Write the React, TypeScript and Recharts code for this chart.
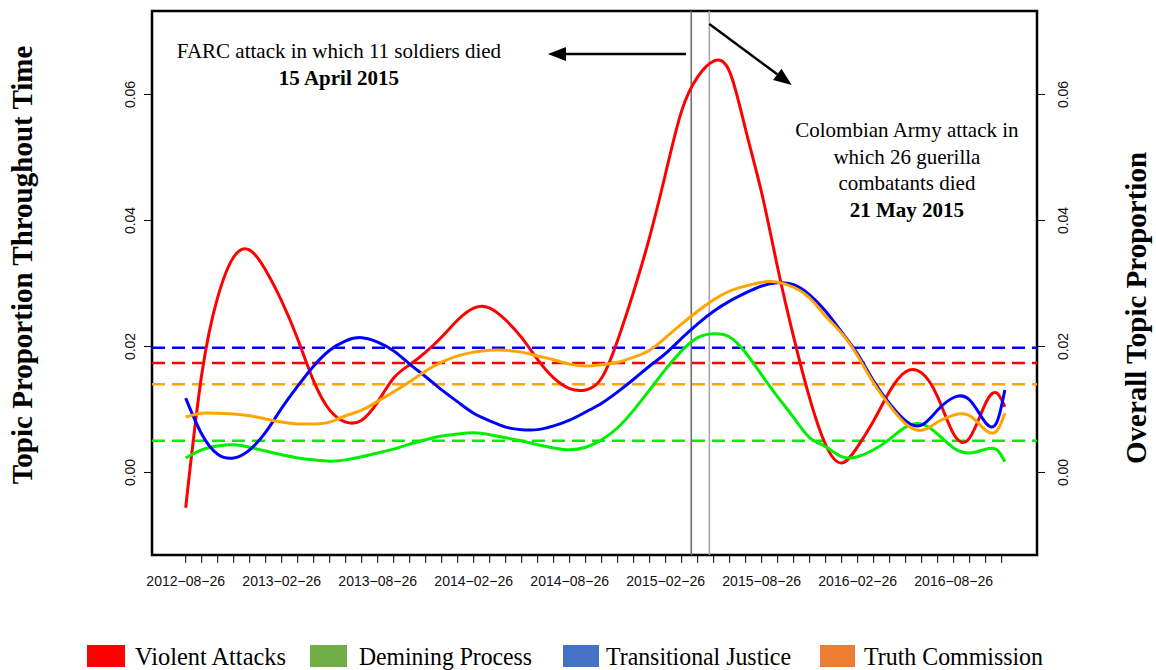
import React from 'react';
import {
  LineChart,
  Line,
  XAxis,
  YAxis,
  ReferenceLine,
  ReferenceArea,
  ReferenceDot,
} from 'recharts';

// Month index since 2012-08-26 (one unit = one month)
const months = [
  0, 1, 2, 3, 4, 5, 6, 7, 8, 9,
  10, 11, 12, 13, 14, 15, 16, 17, 18, 19,
  20, 21, 22, 23, 24, 25, 26, 27, 28, 29,
  30, 31, 32, 33, 34, 35, 36, 37, 38, 39,
  40, 41, 42, 43, 44, 45, 46, 47, 48, 49,
  50, 50.7, 51.2,
];

const violentAttacks = [
  -0.0056, 0.0155, 0.0278, 0.0342, 0.0353, 0.0321, 0.0272, 0.0212, 0.0145, 0.0099,
  0.0080, 0.0083, 0.0112, 0.0150, 0.0171, 0.0191, 0.0215, 0.0242, 0.0261, 0.0261,
  0.0242, 0.0214, 0.0179, 0.0150, 0.0133, 0.0131, 0.0150, 0.0210, 0.0287, 0.0374,
  0.0475, 0.0574, 0.0628, 0.0653, 0.0636, 0.0544, 0.0444, 0.0325, 0.0215, 0.0118,
  0.0044, 0.0015, 0.0041, 0.0082, 0.0129, 0.0160, 0.0158, 0.0120, 0.0061, 0.0055,
  0.0110, 0.0126, 0.0104,
];

const deminingProcess = [
  0.0023, 0.0036, 0.0042, 0.0044, 0.0040, 0.0034, 0.0028, 0.0023, 0.0020, 0.0018,
  0.0020, 0.0025, 0.0031, 0.0037, 0.0045, 0.0052, 0.0058, 0.0061, 0.0063, 0.0060,
  0.0055, 0.0050, 0.0044, 0.0039, 0.0036, 0.0040, 0.0052, 0.0071, 0.0099, 0.0131,
  0.0164, 0.0193, 0.0214, 0.0220, 0.0215, 0.0190, 0.0155, 0.0120, 0.0087, 0.0055,
  0.0041, 0.0025, 0.0025, 0.0036, 0.0053, 0.0072, 0.0077, 0.0061, 0.0039, 0.0031,
  0.0037, 0.0036, 0.0017,
];

const transitionalJustice = [
  0.0118, 0.0061, 0.0029, 0.0023, 0.0036, 0.0064, 0.0102, 0.0137, 0.0169, 0.0194,
  0.0209, 0.0214, 0.0207, 0.0193, 0.0172, 0.0152, 0.0131, 0.0112, 0.0094, 0.0082,
  0.0072, 0.0068, 0.0068, 0.0074, 0.0083, 0.0096, 0.0110, 0.0128, 0.0148, 0.0169,
  0.0189, 0.0213, 0.0236, 0.0256, 0.0272, 0.0285, 0.0296, 0.0301, 0.0298, 0.0282,
  0.0256, 0.0223, 0.0188, 0.0145, 0.0109, 0.0082, 0.0075, 0.0099, 0.0119, 0.0115,
  0.0079, 0.0080, 0.0131,
];

const truthCommission = [
  0.0088, 0.0094, 0.0094, 0.0093, 0.0090, 0.0085, 0.0080, 0.0077, 0.0077, 0.0080,
  0.0090, 0.0099, 0.0113, 0.0128, 0.0144, 0.0161, 0.0175, 0.0185, 0.0191, 0.0194,
  0.0194, 0.0191, 0.0185, 0.0179, 0.0172, 0.0169, 0.0171, 0.0175, 0.0183, 0.0194,
  0.0214, 0.0236, 0.0256, 0.0274, 0.0288, 0.0296, 0.0302, 0.0302, 0.0294, 0.0277,
  0.0248, 0.0221, 0.0185, 0.0142, 0.0106, 0.0077, 0.0067, 0.0080, 0.0091, 0.0090,
  0.0067, 0.0066, 0.0094,
];

// Overall (whole-period) topic proportions, drawn as dashed reference lines
const overallViolent = 0.01738;
const overallDemining = 0.00505;
const overallTransitional = 0.01981;
const overallTruth = 0.0140;

// Labels shown on every sixth monthly tick
const tickLabels = [
  '2012-08-26', '2013-02-26', '2013-08-26', '2014-02-26', '2014-08-26',
  '2015-02-26', '2015-08-26', '2016-02-26', '2016-08-26',
];
const monthTicks = Array.from({ length: 52 }, (_, i) => i);
const yTicks = [0, 0.02, 0.04, 0.06];

// Event dates (month index)
const farcAttack = 31.6; // 15 April 2015
const armyAttack = 32.73; // 21 May 2015

const X_DOMAIN: [number, number] = [-2.106, 53.21];
const Y_DOMAIN: [number, number] = [-0.0131, 0.07325];

const data = months.map((m, i) => ({
  month: m,
  violent: violentAttacks[i],
  demining: deminingProcess[i],
  transitional: transitionalJustice[i],
  truth: truthCommission[i],
}));

const legendItems = [
  { name: 'Violent Attacks', color: '#FF0000', rx: 87, rw: 38, tx: 135, tw: 151 },
  { name: 'Demining Process', color: '#70AD47', rx: 310, rw: 37, tx: 359, tw: 173 },
  { name: 'Transitional Justice', color: '#4472C4', rx: 563, rw: 36, tx: 606, tw: 185 },
  { name: 'Truth Commission', color: '#ED7D31', rx: 820, rw: 35, tx: 864, tw: 179 },
];

const SANS = '"Liberation Sans", Arial, sans-serif';
const SERIF = '"Liberation Serif", "Times New Roman", serif';

const RotatedYTick = (props: any) => {
  const { x, y, payload } = props;
  return (
    <text
      x={x}
      y={y}
      transform={`rotate(-90, ${x}, ${y})`}
      textAnchor="middle"
      fontSize={14}
      fontFamily={SANS}
      fill="#111"
    >
      {Number(payload.value).toFixed(2)}
    </text>
  );
};

const MonthTick = (props: any) => {
  const { x, y, payload } = props;
  const idx = payload.value as number;
  if (idx % 6 !== 0) return <g />;
  const label = tickLabels[idx / 6];
  if (!label) return <g />;
  return (
    <text
      x={x}
      y={y}
      dy="0.71em"
      textAnchor="middle"
      fontSize={14}
      fontFamily={SANS}
      fill="#111"
    >
      {label.replace(/-/g, '\u2212')}
    </text>
  );
};

const Arrow = (props: any) => {
  const { x1, y1, x2, y2 } = props;
  const ang = Math.atan2(y2 - y1, x2 - x1);
  const len = 18;
  const half = 7;
  const bx = x2 - len * Math.cos(ang);
  const by = y2 - len * Math.sin(ang);
  const px = -Math.sin(ang) * half;
  const py = Math.cos(ang) * half;
  return (
    <g>
      <line x1={x1} y1={y1} x2={bx} y2={by} stroke="#000" strokeWidth={2.5} />
      <polygon
        points={`${x2},${y2} ${bx + px},${by + py} ${bx - px},${by - py}`}
        fill="#000"
      />
    </g>
  );
};

const textShape = (text: string, bold: boolean) => (props: any) => (
  <text
    x={props.cx}
    y={props.cy}
    textAnchor="middle"
    fontSize={21}
    fontFamily={SERIF}
    fontWeight={bold ? 'bold' : 'normal'}
    fill="#000"
  >
    {text}
  </text>
);

const annotations = [
  { x: 9.58, y: 0.06579, text: 'FARC attack in which 11 soldiers died', bold: false },
  { x: 9.58, y: 0.06151, text: '15 April 2015', bold: true },
  { x: 45.08, y: 0.05325, text: 'Colombian Army attack in', bold: false },
  { x: 45.08, y: 0.04897, text: 'which 26 guerilla', bold: false },
  { x: 45.08, y: 0.04484, text: 'combatants died', bold: false },
  { x: 45.08, y: 0.04056, text: '21 May 2015', bold: true },
];

export default function App() {
  return (
    <div style={{ position: 'absolute', left: 0, top: 0, width: 1156, height: 670, background: '#fff' }}>
      <LineChart
        width={1156}
        height={670}
        data={data}
        margin={{ top: 11, right: 0, bottom: 0, left: 0 }}
      >
        <XAxis
          dataKey="month"
          type="number"
          domain={X_DOMAIN}
          allowDataOverflow
          ticks={monthTicks}
          interval={0}
          height={115}
          axisLine={false}
          tickSize={8}
          tickMargin={13}
          tickLine={{ stroke: '#000', strokeWidth: 1 }}
          tick={<MonthTick />}
        />
        <YAxis
          yAxisId="left"
          orientation="left"
          type="number"
          domain={Y_DOMAIN}
          allowDataOverflow
          ticks={yTicks}
          width={152}
          axisLine={false}
          tickSize={8}
          tickMargin={9}
          tickLine={{ stroke: '#000', strokeWidth: 1 }}
          tick={<RotatedYTick />}
        />
        <YAxis
          yAxisId="right"
          orientation="right"
          type="number"
          domain={Y_DOMAIN}
          allowDataOverflow
          ticks={yTicks}
          width={119}
          axisLine={false}
          tickSize={8}
          tickMargin={23}
          tickLine={{ stroke: '#000', strokeWidth: 1 }}
          tick={<RotatedYTick />}
        />

        <ReferenceLine yAxisId="left" x={farcAttack} stroke="#6e6e6e" strokeWidth={1.6} />
        <ReferenceLine yAxisId="left" x={armyAttack} stroke="#a8a8a8" strokeWidth={1.6} />

        <ReferenceLine yAxisId="left" y={overallTransitional} stroke="#0000FF" strokeWidth={2.5} strokeDasharray="13 7" />
        <ReferenceLine yAxisId="left" y={overallViolent} stroke="#FF0000" strokeWidth={2.5} strokeDasharray="13 7" />
        <ReferenceLine yAxisId="left" y={overallTruth} stroke="#FFA500" strokeWidth={2.5} strokeDasharray="13 7" />
        <ReferenceLine yAxisId="left" y={overallDemining} stroke="#00EE00" strokeWidth={2.5} strokeDasharray="13 7" />

        <Line yAxisId="left" type="natural" dataKey="violent" stroke="#FF0000" strokeWidth={3} dot={false} isAnimationActive={false} />
        <Line yAxisId="left" type="natural" dataKey="demining" stroke="#00EE00" strokeWidth={3} dot={false} isAnimationActive={false} />
        <Line yAxisId="left" type="natural" dataKey="transitional" stroke="#0000FF" strokeWidth={3} dot={false} isAnimationActive={false} />
        <Line yAxisId="left" type="natural" dataKey="truth" stroke="#FFA500" strokeWidth={3} dot={false} isAnimationActive={false} />

        <ReferenceLine
          yAxisId="left"
          segment={[{ x: 31.27, y: 0.06643 }, { x: 22.64, y: 0.06643 }]}
          shape={<Arrow />}
        />
        <ReferenceLine
          yAxisId="left"
          segment={[{ x: 32.73, y: 0.07119 }, { x: 37.88, y: 0.06151 }]}
          shape={<Arrow />}
        />

        {annotations.map((a, i) => (
          <ReferenceDot
            key={i}
            yAxisId="left"
            x={a.x}
            y={a.y}
            r={0}
            shape={textShape(a.text, a.bold)}
          />
        ))}

        <ReferenceArea
          yAxisId="left"
          x1={X_DOMAIN[0]}
          x2={X_DOMAIN[1]}
          y1={Y_DOMAIN[0]}
          y2={Y_DOMAIN[1]}
          ifOverflow="visible"
          fill="none"
          fillOpacity={0}
          stroke="#000"
          strokeWidth={2.5}
        />
      </LineChart>

      <svg
        width={1156}
        height={670}
        style={{ position: 'absolute', left: 0, top: 0, pointerEvents: 'none' }}
      >
        <text
          transform="translate(32,265) rotate(-90)"
          textAnchor="middle"
          fontFamily={SERIF}
          fontWeight="bold"
          fontSize={29}
          fill="#000"
        >
          Topic Proportion Throughout Time
        </text>
        <text
          transform="translate(1146,308) rotate(-90)"
          textAnchor="middle"
          fontFamily={SERIF}
          fontWeight="bold"
          fontSize={29}
          fill="#000"
        >
          Overall Topic Proportion
        </text>
        {legendItems.map((it) => (
          <g key={it.name}>
            <rect x={it.rx} y={645} width={it.rw} height={22} fill={it.color} />
            <text
              x={it.tx}
              y={665}
              fontFamily={SERIF}
              fontSize={26}
              textLength={it.tw}
              lengthAdjust="spacingAndGlyphs"
              fill="#000"
            >
              {it.name}
            </text>
          </g>
        ))}
      </svg>
    </div>
  );
}
